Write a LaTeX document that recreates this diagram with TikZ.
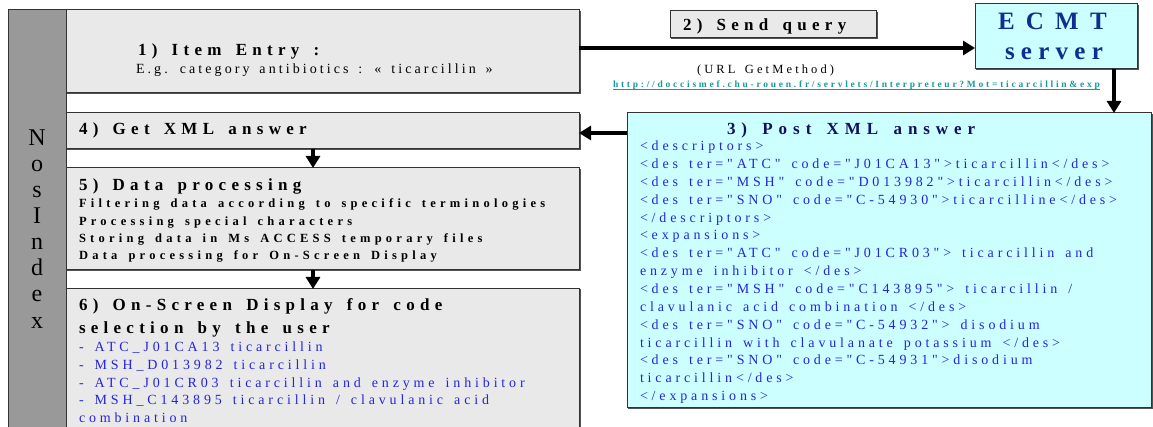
\documentclass[tikz,border=0pt]{standalone}
\usepackage{fontspec}
\setmainfont{Liberation Serif}
\newfontfamily\fTitle[LetterSpace=31,WordSpace=1.5,Ligatures=NoCommon]{Liberation Serif}
\newfontfamily\fNavy[LetterSpace=35,WordSpace=1.5,Ligatures=NoCommon]{Liberation Serif}
\newfontfamily\fReg[LetterSpace=27.5,WordSpace=1.5,Ligatures=NoCommon]{Liberation Serif}
\newfontfamily\fSmall[LetterSpace=34,WordSpace=1.5,Ligatures=NoCommon]{Liberation Serif}
\newfontfamily\fEcA[LetterSpace=45]{Liberation Serif}
\newfontfamily\fEcB[LetterSpace=25]{Liberation Serif}
\newfontfamily\fUrl[LetterSpace=29,Ligatures=NoCommon]{Liberation Serif}
\newfontfamily\fEg[LetterSpace=22,WordSpace=1.5,Ligatures=NoCommon]{Liberation Serif}
\newfontfamily\fGet[LetterSpace=25,WordSpace=1.5]{Liberation Serif}
\usetikzlibrary{arrows.meta}
\definecolor{colgray}{HTML}{999999}
\definecolor{boxgray}{HTML}{E9E9E9}
\definecolor{cyanf}{HTML}{CCFFFF}
\definecolor{xmlblue}{HTML}{2424DD}
\definecolor{navy}{HTML}{10105E}
\definecolor{ecmtblue}{HTML}{0E2F8E}
\definecolor{urlteal}{HTML}{139A9A}
\definecolor{edge}{HTML}{333333}
\tikzset{
  box/.style={draw=edge, line width=1pt, anchor=north west, inner sep=0pt, outer sep=0pt},
  shade/.style={draw=edge!85, line width=1pt},
  tx/.style={anchor=base west, inner sep=0pt, outer sep=0pt},
  ttl/.style={tx, font=\fTitle\bfseries\fontsize{17}{20}\selectfont},
  sml/.style={tx, font=\fSmall\bfseries\fontsize{12.5}{15}\selectfont},
  blu/.style={tx, text=xmlblue, font=\fReg\fontsize{14}{17}\selectfont},
  arr/.style={line width=4pt, -{Triangle[length=12pt,width=14pt]}},
}
\begin{document}
\begin{tikzpicture}[x=1pt,y=-1pt]
\useasboundingbox (0,0) rectangle (1153,427);
% left column
\node[box, fill=colgray, minimum width=58pt, minimum height=430pt] (col) at (8,10) {};
\foreach \c [count=\i from 0] in {N,o,s,I,n,d,e,x}
  \node[anchor=base, inner sep=0pt, font=\fontsize{24}{26}\selectfont] (L\i) at (37,146+26*\i) {\c};
% boxes
\node[box, fill=boxgray, minimum width=513pt, minimum height=83pt] (b1) at (66,10) {};
\node[box, fill=boxgray, minimum width=513pt, minimum height=36pt] (b4) at (66,113) {};
\node[box, fill=boxgray, minimum width=513pt, minimum height=102pt] (b5) at (66,168) {};
\node[box, fill=boxgray, minimum width=513pt, minimum height=160pt] (b6) at (66,289) {};
\node[box, fill=boxgray, minimum width=206pt, minimum height=27pt] (sq) at (670,11) {};
\node[box, fill=cyanf, minimum width=162pt, minimum height=65pt] (ecmt) at (975,4) {};
\node[box, fill=cyanf, minimum width=524pt, minimum height=294pt] (xml) at (627,113) {};
% shadow edges
\foreach \b in {b1,b4,b5,sq,ecmt,xml}
  \draw[shade] ([shift={(1pt,-1pt)}]\b.south west) -| ([shift={(1pt,-1pt)}]\b.north east);
\draw[shade] ([shift={(1pt,0pt)}]b6.north east) -- ([shift={(1pt,0pt)}]b6.south east);
% box 1
\node[ttl] (t1) at (138,56) {1) Item Entry :};
\node[tx, font=\fEg\fontsize{14}{17}\selectfont] (t1b) at (136,74) {E.g. category antibiotics : « ticarcillin »};
% send query
\node[ttl] (t2) at (683,31) {2) Send query};
\node[tx, font=\fGet\fontsize{12.5}{15}\selectfont] (t2b) at (697,74) {(URL GetMethod)};
\node[tx, text=urlteal, font=\fUrl\bfseries\fontsize{9.5}{11}\selectfont] (url) at (613,88) {http://doccismef.chu-rouen.fr/servlets/Interpreteur?Mot=ticarcillin\&exp};
\draw[urlteal, line width=0.8pt] ([yshift=-1.8pt]url.base west) -- ([yshift=-1.8pt]url.base east);
% ECMT
\node[tx, text=ecmtblue, font=\fEcA\bfseries\fontsize{25}{28}\selectfont] (e1) at (998,30) {ECMT};
\node[tx, text=ecmtblue, font=\fEcB\bfseries\fontsize{25}{28}\selectfont] (e2) at (1005,60) {server};
% XML
\node[tx, text=navy, font=\fNavy\bfseries\fontsize{17}{20}\selectfont] (t3) at (727,134.5) {3) Post XML answer};
\foreach \t [count=\i from 0] in {
  {<descriptors>},
  {<des ter="ATC" code="J01CA13">ticarcillin</des>},
  {<des ter="MSH" code="D013982">ticarcillin</des>},
  {<des ter="SNO" code="C-54930">ticarcilline</des>},
  {</descriptors>},
  {<expansions>},
  {<des ter="ATC" code="J01CR03"> ticarcillin and},
  {enzyme inhibitor </des>},
  {<des ter="MSH" code="C143895"> ticarcillin /},
  {clavulanic acid combination </des>},
  {<des ter="SNO" code="C-54932"> disodium},
  {ticarcillin with clavulanate potassium </des>},
  {<des ter="SNO" code="C-54931">disodium},
  {ticarcillin</des>},
  {</expansions>}}
  \node[blu] (x\i) at (640,150.6+17.86*\i) {\t};
% box 4
\node[ttl] (t4) at (79,134.5) {4) Get XML answer};
% box 5
\node[ttl] (t5) at (79,190.5) {5) Data processing};
\foreach \t [count=\i from 0] in {
  {Filtering data according to specific terminologies},
  {Processing special characters},
  {Storing data in Ms ACCESS temporary files},
  {Data processing for On-Screen Display}}
  \node[sml] (p\i) at (79,208+17.3*\i) {\t};
% box 6
\node[ttl] (t6a) at (79,310.5) {6) On-Screen Display for code};
\node[ttl] (t6b) at (79,333.5) {selection by the user};
\foreach \t [count=\i from 0] in {
  {- ATC\_J01CA13 ticarcillin},
  {- MSH\_D013982 ticarcillin},
  {- ATC\_J01CR03 ticarcillin and enzyme inhibitor},
  {- MSH\_C143895 ticarcillin / clavulanic acid},
  {combination}}
  \node[blu] (s\i) at (79,351.5+17.75*\i) {\t};
% arrows
\draw[arr] ([yshift=3.5pt]b1.east) -- ([yshift=3.5pt]b1.east -| ecmt.west);
\draw[arr] ([xshift=58pt]ecmt.south) -- ([xshift=58pt]ecmt.south |- xml.north);
\draw[arr] ([yshift=-2pt]b4.east -| xml.west) -- ([yshift=-2pt]b4.east);
\draw[arr] ([xshift=-9.5pt]b4.south) -- ([xshift=-9.5pt]b5.north);
\draw[arr] ([xshift=-9.5pt]b5.south) -- ([xshift=-9.5pt]b6.north);
\end{tikzpicture}
\end{document}
